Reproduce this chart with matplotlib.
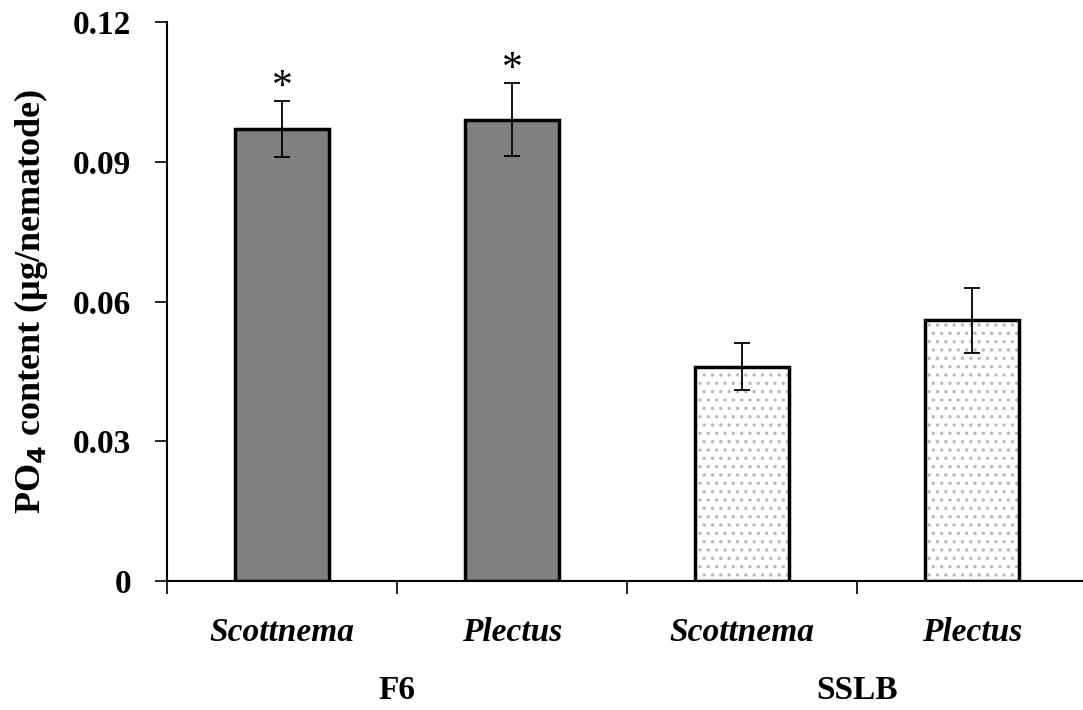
import numpy as np
import matplotlib.pyplot as plt

# data
groups = ['F6', 'SSLB']
species = ['Scottnema', 'Plectus', 'Scottnema', 'Plectus']
po4 = [0.097, 0.099, 0.046, 0.056]
po4_err = [0.006, 0.0078, 0.005, 0.007]
signif = ['*', '*', '', '']
yticks = [0, 0.03, 0.06, 0.09, 0.12]
ytick_labels = ['0', '0.03', '0.06', '0.09', '0.12']

plt.rcParams['font.family'] = ['Liberation Serif', 'DejaVu Serif']
plt.rcParams['font.weight'] = 'bold'
plt.rcParams['hatch.linewidth'] = 1.2

fig = plt.figure(figsize=(10.83, 7.10), dpi=100)
ax = fig.add_axes([167 / 1083, 129 / 710, 920 / 1083, 559 / 710])

x = np.arange(len(po4)) + 0.5
fills = ['#808080', '#808080', 'white', 'white']
hatches = [None, None, '..', '..']
for xi, v, fc, h in zip(x, po4, fills, hatches):
    # fill (with light dotted hatch) first, then a black outline on top
    ax.bar(xi, v, width=0.405, color=fc, edgecolor='#b8b8b8', linewidth=0,
           hatch=h, zorder=2)
    ax.bar(xi, v, width=0.405, fill=False, edgecolor='black', linewidth=2.5,
           zorder=2.5)
ax.errorbar(x, po4, yerr=po4_err, fmt='none', ecolor='black', elinewidth=1.3,
            capsize=6, capthick=1.3, zorder=3)

for xi, v, e, s in zip(x, po4, po4_err, signif):
    if s:
        ax.text(xi, v + e - 0.0012, s, ha='center', va='bottom', fontsize=30,
                fontweight='normal')

ax.set_xlim(0, 4)
ax.set_ylim(0, 0.12)
ax.set_yticks(yticks)
ax.set_yticklabels(ytick_labels, fontsize=24, fontweight='bold')
ax.set_xticks(np.arange(0, 5))
ax.set_xticklabels([])
ax.tick_params(axis='both', direction='out', length=9, width=1.2)
ax.tick_params(axis='y', pad=17)

for xi, name in zip(x, species):
    ax.text(xi, -0.011, name, ha='center', va='center', fontsize=24,
            fontstyle='italic', fontweight='bold')
for gi, g in enumerate(groups):
    ax.text(1 + 2 * gi, -0.0235, g, ha='center', va='center', fontsize=24,
            fontweight='bold')

ax.set_ylabel('PO$_4$ content (\u00b5g/nematode)', fontsize=26, fontweight='bold',
              labelpad=16)

for side in ['top', 'right']:
    ax.spines[side].set_visible(False)
for side in ['left', 'bottom']:
    ax.spines[side].set_linewidth(1.5)

fig.savefig('out.png', dpi=100)
